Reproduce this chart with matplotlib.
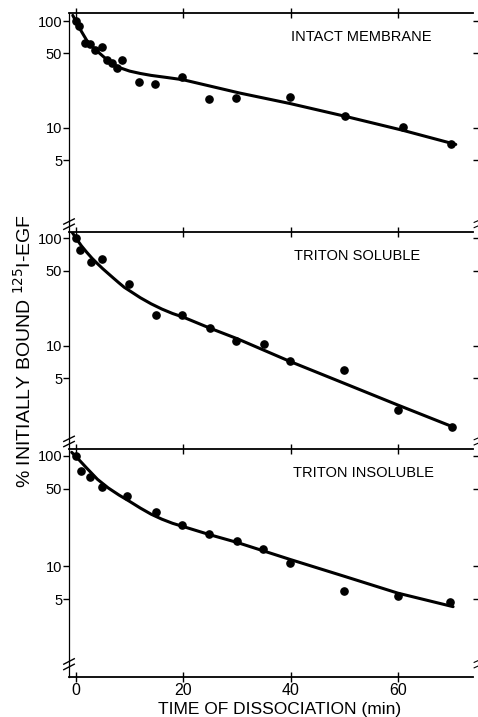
import matplotlib
matplotlib.use('Agg')
import matplotlib.pyplot as plt
from matplotlib.ticker import FixedLocator, NullLocator, FixedFormatter

plt.rcParams['font.family'] = ['Liberation Sans', 'DejaVu Sans']

# intact membrane
t_intact = [0, 0.6, 1.6, 2.6, 3.6, 4.8, 5.7, 6.8, 7.7, 8.6, 11.7, 14.7, 19.7, 24.8, 29.8, 39.9, 50.1, 60.9, 70.0]
v_intact = [100, 89, 62.8, 61.5, 53.2, 57.1, 43, 40.8, 36.4, 43, 26.9, 26, 30, 18.8, 19.2, 19.6, 12.9, 10.2, 7.0]
fit_t_intact = [-0.6, 0.7, 2, 3, 4, 5, 6, 7, 8, 10, 12, 14, 17, 20, 30.5, 39.9, 50.0, 60.9, 70.8]
fit_v_intact = [113, 85, 66, 58, 52, 47, 42.5, 39, 36.8, 34, 32.3, 31, 29.6, 28.2, 21.2, 16.9, 12.9, 9.5, 7.0]

# triton soluble
t_sol = [0, 0.74, 2.8, 4.8, 9.8, 14.9, 19.7, 25.0, 29.8, 35.0, 39.9, 50.0, 60.0, 70.1]
v_sol = [100, 77.9, 60.7, 63.8, 37.6, 19.4, 19.3, 14.6, 11.2, 10.4, 7.26, 6.0, 2.55, 1.78]
fit_t_sol = [-0.8, 0, 1, 2, 3, 4, 5, 6, 7, 8, 9, 10, 12, 14, 16, 18, 20, 25, 30, 39.9, 50.0, 60.0, 70.2]
fit_v_sol = [115, 100, 85, 74, 65, 58, 52, 47, 42.5, 38.5, 35, 32.5, 28, 24.6, 22, 20, 18.5, 14.6, 11.7, 7.18, 4.5, 2.83, 1.78]

# triton insoluble
t_ins = [0, 0.87, 2.7, 4.8, 9.6, 14.9, 19.8, 24.8, 30.0, 34.8, 39.9, 50.0, 60.0, 69.7]
v_ins = [100, 72.3, 63.4, 52.4, 42.8, 31.0, 23.7, 19.4, 16.9, 14.4, 10.7, 6.0, 5.4, 4.75]
fit_t_ins = [-0.8, 0, 2, 4, 6, 8, 10, 12, 14, 16, 18, 20, 25, 30, 39.9, 50.0, 60.0, 70.3]
fit_v_ins = [107, 98, 77, 61, 51, 44, 38.5, 33.5, 29.5, 26.6, 24.4, 22.8, 19.2, 16.4, 11.5, 8.1, 5.7, 4.3]

panel_names = ['INTACT MEMBRANE', 'TRITON SOLUBLE', 'TRITON INSOLUBLE']
y_ticks = [5, 10, 50, 100]
y_ticklabels = ['5', '10', '50', '100']
x_ticks = [0, 20, 40, 60]

fig = plt.figure(figsize=(4.78, 7.17), dpi=100)
left, width = 0.1444, 0.845
boxes = [(0.6764, 0.9819), (0.3734, 0.6764), (0.0562, 0.3734)]
ylims = [(1.06, 119), (1.1, 114), (1.0, 114)]
label_pos = [(0.7245, 0.892), (0.712, 0.89), (0.730, 0.894)]
breaks = [0.036, 0.036, 0.055]
series = [(t_intact, v_intact, fit_t_intact, fit_v_intact),
          (t_sol, v_sol, fit_t_sol, fit_v_sol),
          (t_ins, v_ins, fit_t_ins, fit_v_ins)]

for i, (b, t) in enumerate(boxes):
    ax = fig.add_axes([left, b, width, t - b])
    tt, vv, ft, fv = series[i]
    ax.plot(ft, fv, color='black', lw=2.2, solid_capstyle='round', solid_joinstyle='round')
    ax.plot(tt, vv, 'o', color='black', ms=5.2)
    ax.set_yscale('log')
    ax.set_ylim(*ylims[i])
    ax.set_xlim(-1.3, 74)
    ax.yaxis.set_major_locator(FixedLocator(y_ticks))
    ax.yaxis.set_major_formatter(FixedFormatter(y_ticklabels))
    ax.yaxis.set_minor_locator(NullLocator())
    ax.xaxis.set_major_locator(FixedLocator(x_ticks))
    ax.xaxis.set_minor_locator(NullLocator())
    ax.spines['right'].set_visible(False)
    ax.spines['left'].set_linewidth(0.9)
    ax.spines['top'].set_linewidth(1.3)
    ax.spines['bottom'].set_linewidth(1.3)
    if i < 2:
        ax.spines['bottom'].set_visible(False)
        ax.tick_params(axis='x', bottom=False, labelbottom=False)
    ax.tick_params(axis='x', top=True, direction='inout', length=7, width=1)
    ax.tick_params(axis='x', bottom=(i == 2), labelsize=11.5, pad=1)
    ax.tick_params(axis='y', left=True, right=True, direction='out', length=4,
                   width=1, labelsize=10.5, pad=1)
    ax.text(*label_pos[i], panel_names[i], transform=ax.transAxes,
            ha='center', va='center', fontsize=10.5)
    # axis break marks
    yb = breaks[i]
    for off in (-0.012, 0.012):
        ax.plot([-0.013, 0.013], [yb + off - 0.012, yb + off + 0.012],
                transform=ax.transAxes, color='black', lw=1, clip_on=False)
        ax.plot([1.003, 1.013], [yb + off - 0.004, yb + off + 0.004],
                transform=ax.transAxes, color='black', lw=0.8, clip_on=False)

fig.text(0.585, 0.011, 'TIME OF DISSOCIATION (min)', ha='center', va='center', fontsize=12.5)
fig.text(0.05, 0.51, '% INITIALLY BOUND $^{125}$I-EGF', rotation=90,
         ha='center', va='center', fontsize=14)

fig.savefig('out.png', dpi=100)
